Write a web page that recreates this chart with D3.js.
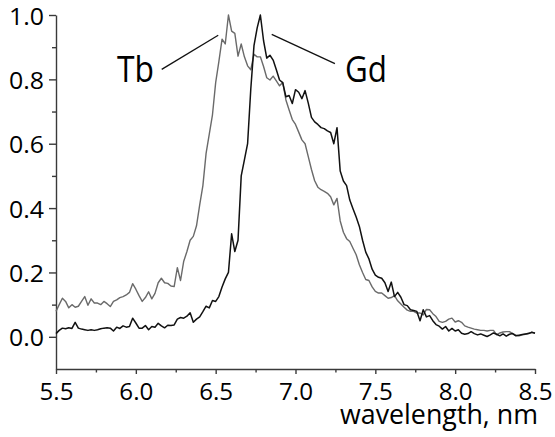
<!DOCTYPE html>
<html>
<head>
<meta charset="utf-8">
<script src="https://cdn.jsdelivr.net/npm/d3@7/dist/d3.min.js"></script>
<style>
  html, body { margin: 0; padding: 0; background: #ffffff; }
  svg { display: block; }
</style>
</head>
<body>
<script>
// ---- data ----
const wavelength = [
  5.50,5.52,5.54,5.56,5.58,5.60,5.62,5.64,5.66,5.68,
  5.70,5.72,5.74,5.76,5.78,5.80,5.82,5.84,5.86,5.88,
  5.90,5.92,5.94,5.96,5.98,6.00,6.02,6.04,6.06,6.08,
  6.10,6.12,6.14,6.16,6.18,6.20,6.22,6.24,6.26,6.28,
  6.30,6.32,6.34,6.36,6.38,6.40,6.42,6.44,6.46,6.48,
  6.50,6.52,6.54,6.56,6.58,6.60,6.62,6.64,6.66,6.68,
  6.70,6.72,6.74,6.76,6.78,6.80,6.82,6.84,6.86,6.88,
  6.90,6.92,6.94,6.96,6.98,7.00,7.02,7.04,7.06,7.08,
  7.10,7.12,7.14,7.16,7.18,7.20,7.22,7.24,7.26,7.28,
  7.30,7.32,7.34,7.36,7.38,7.40,7.42,7.44,7.46,7.48,
  7.50,7.52,7.54,7.56,7.58,7.60,7.62,7.64,7.66,7.68,
  7.70,7.72,7.74,7.76,7.78,7.80,7.82,7.84,7.86,7.88,
  7.90,7.92,7.94,7.96,7.98,8.00,8.02,8.04,8.06,8.08,
  8.10,8.12,8.14,8.16,8.18,8.20,8.22,8.24,8.26,8.28,
  8.30,8.32,8.34,8.36,8.38,8.40,8.42,8.44,8.46,8.48,
  8.50
];

const tb = [
  0.079,0.100,0.120,0.110,0.090,0.100,0.092,0.095,0.110,0.125,
  0.098,0.118,0.105,0.105,0.100,0.110,0.103,0.094,0.110,0.115,
  0.122,0.125,0.130,0.138,0.165,0.148,0.128,0.110,0.122,0.140,
  0.118,0.135,0.168,0.182,0.168,0.166,0.158,0.156,0.215,0.175,
  0.235,0.265,0.300,0.312,0.345,0.410,0.470,0.570,0.630,0.690,
  0.790,0.855,0.925,0.910,1.000,0.950,0.943,0.872,0.910,0.870,
  0.842,0.830,0.878,0.870,0.870,0.840,0.805,0.798,0.810,0.795,
  0.780,0.790,0.736,0.705,0.675,0.660,0.636,0.612,0.600,0.560,
  0.520,0.485,0.465,0.457,0.452,0.446,0.435,0.410,0.430,0.360,
  0.325,0.305,0.296,0.275,0.255,0.224,0.200,0.178,0.175,0.155,
  0.141,0.136,0.136,0.128,0.120,0.122,0.128,0.112,0.102,0.092,
  0.083,0.079,0.079,0.074,0.074,0.068,0.085,0.084,0.072,0.063,
  0.048,0.045,0.048,0.055,0.058,0.046,0.050,0.045,0.034,0.030,
  0.027,0.024,0.022,0.020,0.020,0.018,0.020,0.020,0.006,0.012,
  0.015,0.016,0.016,0.010,0.005,0.003,0.006,0.008,0.011,0.014,
  0.012
];

const gd = [
  0.010,0.020,0.027,0.025,0.028,0.026,0.045,0.027,0.024,0.022,
  0.020,0.022,0.020,0.022,0.025,0.027,0.028,0.027,0.018,0.030,
  0.026,0.034,0.030,0.032,0.058,0.043,0.027,0.027,0.035,0.022,
  0.032,0.030,0.042,0.034,0.028,0.036,0.035,0.037,0.055,0.060,
  0.058,0.064,0.075,0.045,0.055,0.062,0.078,0.095,0.090,0.113,
  0.110,0.125,0.155,0.180,0.200,0.320,0.265,0.300,0.500,0.550,
  0.600,0.770,0.905,0.960,1.000,0.920,0.866,0.875,0.860,0.830,
  0.798,0.790,0.746,0.750,0.725,0.768,0.760,0.740,0.765,0.726,
  0.682,0.668,0.660,0.650,0.647,0.640,0.635,0.600,0.650,0.515,
  0.484,0.470,0.425,0.398,0.372,0.343,0.300,0.263,0.242,0.210,
  0.192,0.185,0.182,0.168,0.141,0.170,0.125,0.138,0.123,0.100,
  0.097,0.084,0.082,0.079,0.050,0.084,0.062,0.066,0.050,0.038,
  0.033,0.024,0.032,0.018,0.026,0.018,0.022,0.011,0.008,0.010,
  0.016,0.010,0.006,0.009,0.005,0.001,0.006,0.012,0.008,0.003,
  0.009,0.002,0.008,0.010,0.003,0.005,0.007,0.009,0.010,0.014,
  0.011
];

const xMajorTicks = [5.5, 6.0, 6.5, 7.0, 7.5, 8.0, 8.5];
const xTickLabels = ["5.5", "6.0", "6.5", "7.0", "7.5", "8.0", "8.5"];
const xMinorTicks = [5.75, 6.25, 6.75, 7.25, 7.75, 8.25];
const yMajorTicks = [0.0, 0.2, 0.4, 0.6, 0.8, 1.0];
const yTickLabels = ["0.0", "0.2", "0.4", "0.6", "0.8", "1.0"];
const yMinorTicks = [0.1, 0.3, 0.5, 0.7, 0.9];
const xTitle = "wavelength, nm";
const seriesLabels = ["Tb", "Gd"];
// annotation anchors in data space: [label x, label y, line start x, y, line end x, y]
const tbNote = [5.882, 0.791, 6.162, 0.831, 6.516, 0.937];
const gdNote = [7.31, 0.791, 7.247, 0.849, 6.851, 0.940];

// ---- drawing ----
const W = 555, H = 437;
const FONT = "'Open Sans', 'Noto Sans', sans-serif";
const svg = d3.select("body").append("svg").attr("width", W).attr("height", H);

const x = d3.scaleLinear().domain([5.5, 8.5]).range([56, 535]);
const y = d3.scaleLinear().domain([-0.1, 1.0]).range([369, 15]);

const axisColor = "#3a3a3a";

// x axis
const gx = svg.append("g").attr("transform", `translate(0,${y(-0.1)})`)
  .call(d3.axisBottom(x).tickValues(xMajorTicks).tickSize(5).tickSizeOuter(0)
    .tickFormat((d, i) => xTickLabels[i]));
svg.append("g").attr("transform", `translate(0,${y(-0.1)})`)
  .call(d3.axisBottom(x).tickValues(xMinorTicks).tickSize(3.5).tickSizeOuter(0).tickFormat(""))
  .call(g => g.select(".domain").remove());

// y axis
const gy = svg.append("g").attr("transform", `translate(${x(5.5)},0)`)
  .call(d3.axisLeft(y).tickValues(yMajorTicks).tickSize(7).tickSizeOuter(0)
    .tickFormat((d, i) => yTickLabels[i]));
svg.append("g").attr("transform", `translate(${x(5.5)},0)`)
  .call(d3.axisLeft(y).tickValues(yMinorTicks).tickSize(4).tickSizeOuter(0).tickFormat(""))
  .call(g => g.select(".domain").remove());

svg.selectAll(".domain, .tick line").attr("stroke", axisColor).attr("stroke-width", 1.4);

gx.selectAll(".tick text")
  .attr("y", 31).attr("dy", null)
  .attr("fill", "#000").attr("font-family", FONT).attr("font-size", 23).attr("font-weight", 500)
  .attr("textLength", 34).attr("lengthAdjust", "spacingAndGlyphs");

gy.selectAll(".tick text")
  .attr("x", -12).attr("dy", null).attr("y", 9)
  .attr("fill", "#000").attr("font-family", FONT).attr("font-size", 23).attr("font-weight", 500)
  .attr("textLength", 35).attr("lengthAdjust", "spacingAndGlyphs");

// x title
svg.append("text")
  .attr("x", 340).attr("y", 424)
  .attr("font-family", FONT).attr("font-size", 26.5).attr("font-weight", 500).attr("fill", "#000")
  .attr("textLength", 198).attr("lengthAdjust", "spacingAndGlyphs")
  .text(xTitle);

// lines
const line = d3.line().x((d, i) => x(wavelength[i])).y(d => y(d));
svg.append("path").datum(tb).attr("d", line)
  .attr("fill", "none").attr("stroke", "#6a6a6a").attr("stroke-width", 1.4)
  .attr("stroke-linejoin", "round");
svg.append("path").datum(gd).attr("d", line)
  .attr("fill", "none").attr("stroke", "#111").attr("stroke-width", 1.5)
  .attr("stroke-linejoin", "round");

// annotations
[[tbNote, seriesLabels[0], 37], [gdNote, seriesLabels[1], 42]].forEach(([n, lab, len]) => {
  svg.append("line")
    .attr("x1", x(n[2])).attr("y1", y(n[3]))
    .attr("x2", x(n[4])).attr("y2", y(n[5]))
    .attr("stroke", "#111").attr("stroke-width", 1.3);
  svg.append("text")
    .attr("x", x(n[0])).attr("y", y(n[1]))
    .attr("font-family", FONT).attr("font-size", 37).attr("font-weight", 500).attr("fill", "#000")
    .attr("textLength", len).attr("lengthAdjust", "spacingAndGlyphs")
    .text(lab);
});
</script>
</body>
</html>
